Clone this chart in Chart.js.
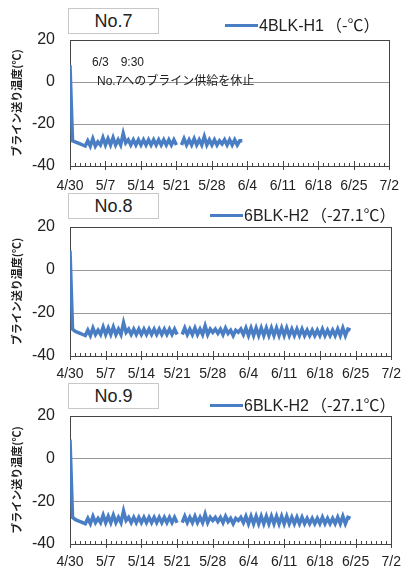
<!DOCTYPE html>
<html>
<head>
<meta charset="utf-8">
<script src="https://cdn.jsdelivr.net/npm/chart.js@4"></script>
<style>
  body { margin: 0; background: #fff; width: 411px; height: 571px; position: relative; overflow: hidden;
         font-family: "Liberation Sans", "Noto Sans CJK JP", sans-serif; color: #222; }
  .panel { position: absolute; left: 0; width: 411px; height: 195px; }
  .panel canvas { position: absolute; left: 0; top: 0; }
  .nobox { position: absolute; left: 68px; width: 89px; height: 24px; border: 1px solid #c8c8c8;
           text-align: center; font-size: 18px; line-height: 24px; background: #fff; }
  .leg { position: absolute; font-size: 16px; line-height: 18px; white-space: nowrap; }
  .leg i { display: inline-block; width: 33px; height: 3px; background: #4a7ec4; vertical-align: middle; margin-right: 1px; position: relative; top: -1px; }
  .leg span { font-family: "Noto Sans CJK JP", sans-serif; font-size: 16px; margin-left: 2px; }
  .note { position: absolute; font-size: 12px; line-height: 14px; white-space: nowrap; }
</style>
</head>
<body>

<div class="panel" style="top:0px">
  <canvas id="c1" width="411" height="195"></canvas>
  <div class="nobox" style="top:8px">No.7</div>
  <div class="leg" style="left:225px;top:15px"><i></i>4BLK-H1<span>（-℃）</span></div>
  <div class="note" style="left:92px;top:55px">6/3　9:30</div>
  <div class="note" style="left:97px;top:74px">No.7へのブライン供給を休止</div>
</div>

<div class="panel" style="top:187px">
  <canvas id="c2" width="411" height="195"></canvas>
  <div class="nobox" style="top:6px">No.8</div>
  <div class="leg" style="left:210px;top:18px"><i></i>6BLK-H2<span>（-27.1℃）</span></div>
</div>

<div class="panel" style="top:376px">
  <canvas id="c3" width="411" height="195"></canvas>
  <div class="nobox" style="top:7px">No.9</div>
  <div class="leg" style="left:210px;top:19px"><i></i>6BLK-H2<span>（-27.1℃）</span></div>
</div>

<script>
// x軸: 4/30 からの日数 (1目盛 = 1日, ラベルは7日ごと)
const tickLabels = ['4/30', '5/7', '5/14', '5/21', '5/28', '6/4', '6/11', '6/18', '6/25', '7/2'];
const yTicks = [20, 0, -20, -40];
const sampleStep = 0.5; // 12時間ごとの記録

// No.7 4BLK-H1 (6/3 まで)
const temps1 = [
  8, -28, -28.5, -29, -29.5, -30, -30.5, -28, -30.5, -27,
  -30.5, -28.5, -30, -26.5, -30, -27, -30, -26.5, -30, -27.5,
  -30, -24.5, -29, -27.5, -30, -27.5, -30, -27.5, -30, -27.5,
  -30, -27.5, -30, -27.5, -30, -27.5, -30, -27.5, -30, -27.5,
  -30, -27.5, -30, null, -30, -27, -30, -27.5, -30, -27,
  -30, -27.5, -30, -26, -30, -27.5, -30, -27.5, -30, -28,
  -29.5, -27.5, -30, -27.5, -30, -27.5, -30, -28, -28
];

// No.8 6BLK-H2
const temps2 = [
  9, -27.5, -28.5, -29, -29.5, -30, -30.5, -28, -30.5, -27,
  -30, -28, -30, -26.5, -30, -27, -30, -26.5, -30, -27.5,
  -30, -24.5, -29, -27.5, -30, -27.5, -30, -27.5, -30, -27.5,
  -30, -27.5, -30, -27.5, -30, -27.5, -30, -27.5, -30, -27.5,
  -30, -27.5, -30, null, -30, -27, -30, -27.5, -30, -27,
  -30, -27.5, -30, -26, -30, -27.5, -29, -27.5, -29.5, -27.5,
  -30, -27, -29.5, -28, -30.5, -28, -29, -27.5, -30, -27,
  -30.5, -27, -30.5, -27, -30.5, -27, -30.5, -27, -30.5, -27,
  -30.5, -27, -30.5, -27, -30.5, -27, -30.5, -27.5, -30.5, -27.5,
  -30.5, -27.5, -30.5, -28, -30.5, -28, -30.5, -28, -30.5, -27.5,
  -30.5, -28, -30.5, -28, -30.5, -27.5, -30.5, -27, -30.5, -27.5,
  -28
];

// No.9 6BLK-H2 (No.8 と同じ系列)
const temps3 = temps2;

const lineColor = '#4a7ec4';

const frameTicks = {
  id: 'frameTicks',
  beforeDatasetsDraw(chart) {
    const { ctx, chartArea: a, scales: { x } } = chart;
    ctx.save();
    ctx.strokeStyle = '#444';
    ctx.lineWidth = 1;
    ctx.strokeRect(Math.round(a.left) + 0.5, Math.round(a.top) + 0.5, Math.round(a.right - a.left), Math.round(a.bottom - a.top));
    ctx.beginPath();
    for (let d = 0; d <= 63; d++) {
      const px = Math.round(x.getPixelForValue(d)) + 0.5;
      const major = d % 7 === 0;
      ctx.moveTo(px, a.bottom + (major ? 4 : 0));
      ctx.lineTo(px, a.bottom - (major ? 5 : 3));
    }
    ctx.stroke();
    ctx.restore();
  }
};

function makeChart(id, temps, label, plotBottom, labelPad) {
  const pts = temps.map((t, i) => ({ x: i * sampleStep, y: t }));
  return new Chart(document.getElementById(id), {
    type: 'line',
    data: {
      datasets: [{
        label: label,
        data: pts,
        borderColor: lineColor,
        borderWidth: 3.5,
        pointRadius: 0,
        tension: 0,
        spanGaps: false
      }]
    },
    options: {
      responsive: false,
      animation: false,
      layout: { padding: { left: 0, right: 13, top: 40, bottom: 0 } },
      plugins: { legend: { display: false }, tooltip: { enabled: false } },
      scales: {
        x: {
          type: 'linear',
          min: 0,
          max: 63,
          afterFit: s => { s.height = 195 - plotBottom; },
          afterBuildTicks: s => { s.ticks = tickLabels.map((_, i) => ({ value: i * 7 })); },
          grid: { display: false, drawTicks: false },
          border: { display: false },
          ticks: {
            padding: labelPad,
            maxRotation: 0,
            autoSkip: false,
            color: '#222',
            font: { family: '"Liberation Sans", sans-serif', size: 14 },
            callback: v => tickLabels[Math.round(v / 7)]
          }
        },
        y: {
          min: -40,
          max: 20,
          afterFit: s => { s.width = 70; },
          afterBuildTicks: s => { s.ticks = yTicks.map(v => ({ value: v })); },
          grid: { color: '#999', lineWidth: 1, drawTicks: false },
          border: { display: false },
          ticks: {
            padding: 15,
            color: '#222',
            font: { family: '"Liberation Sans", sans-serif', size: 16 }
          },
          title: {
            display: true,
            text: 'ブライン送り温度(℃)',
            color: '#222',
            padding: { top: 10, bottom: 0 },
            font: { family: '"Noto Sans CJK JP", sans-serif', size: 11, weight: 'bold' }
          }
        }
      }
    },
    plugins: [frameTicks]
  });
}

makeChart('c1', temps1, '4BLK-H1（-℃）', 166, 12);
makeChart('c2', temps2, '6BLK-H2（-27.1℃）', 169, 10);
makeChart('c3', temps3, '6BLK-H2（-27.1℃）', 168, 10);
</script>
</body>
</html>
